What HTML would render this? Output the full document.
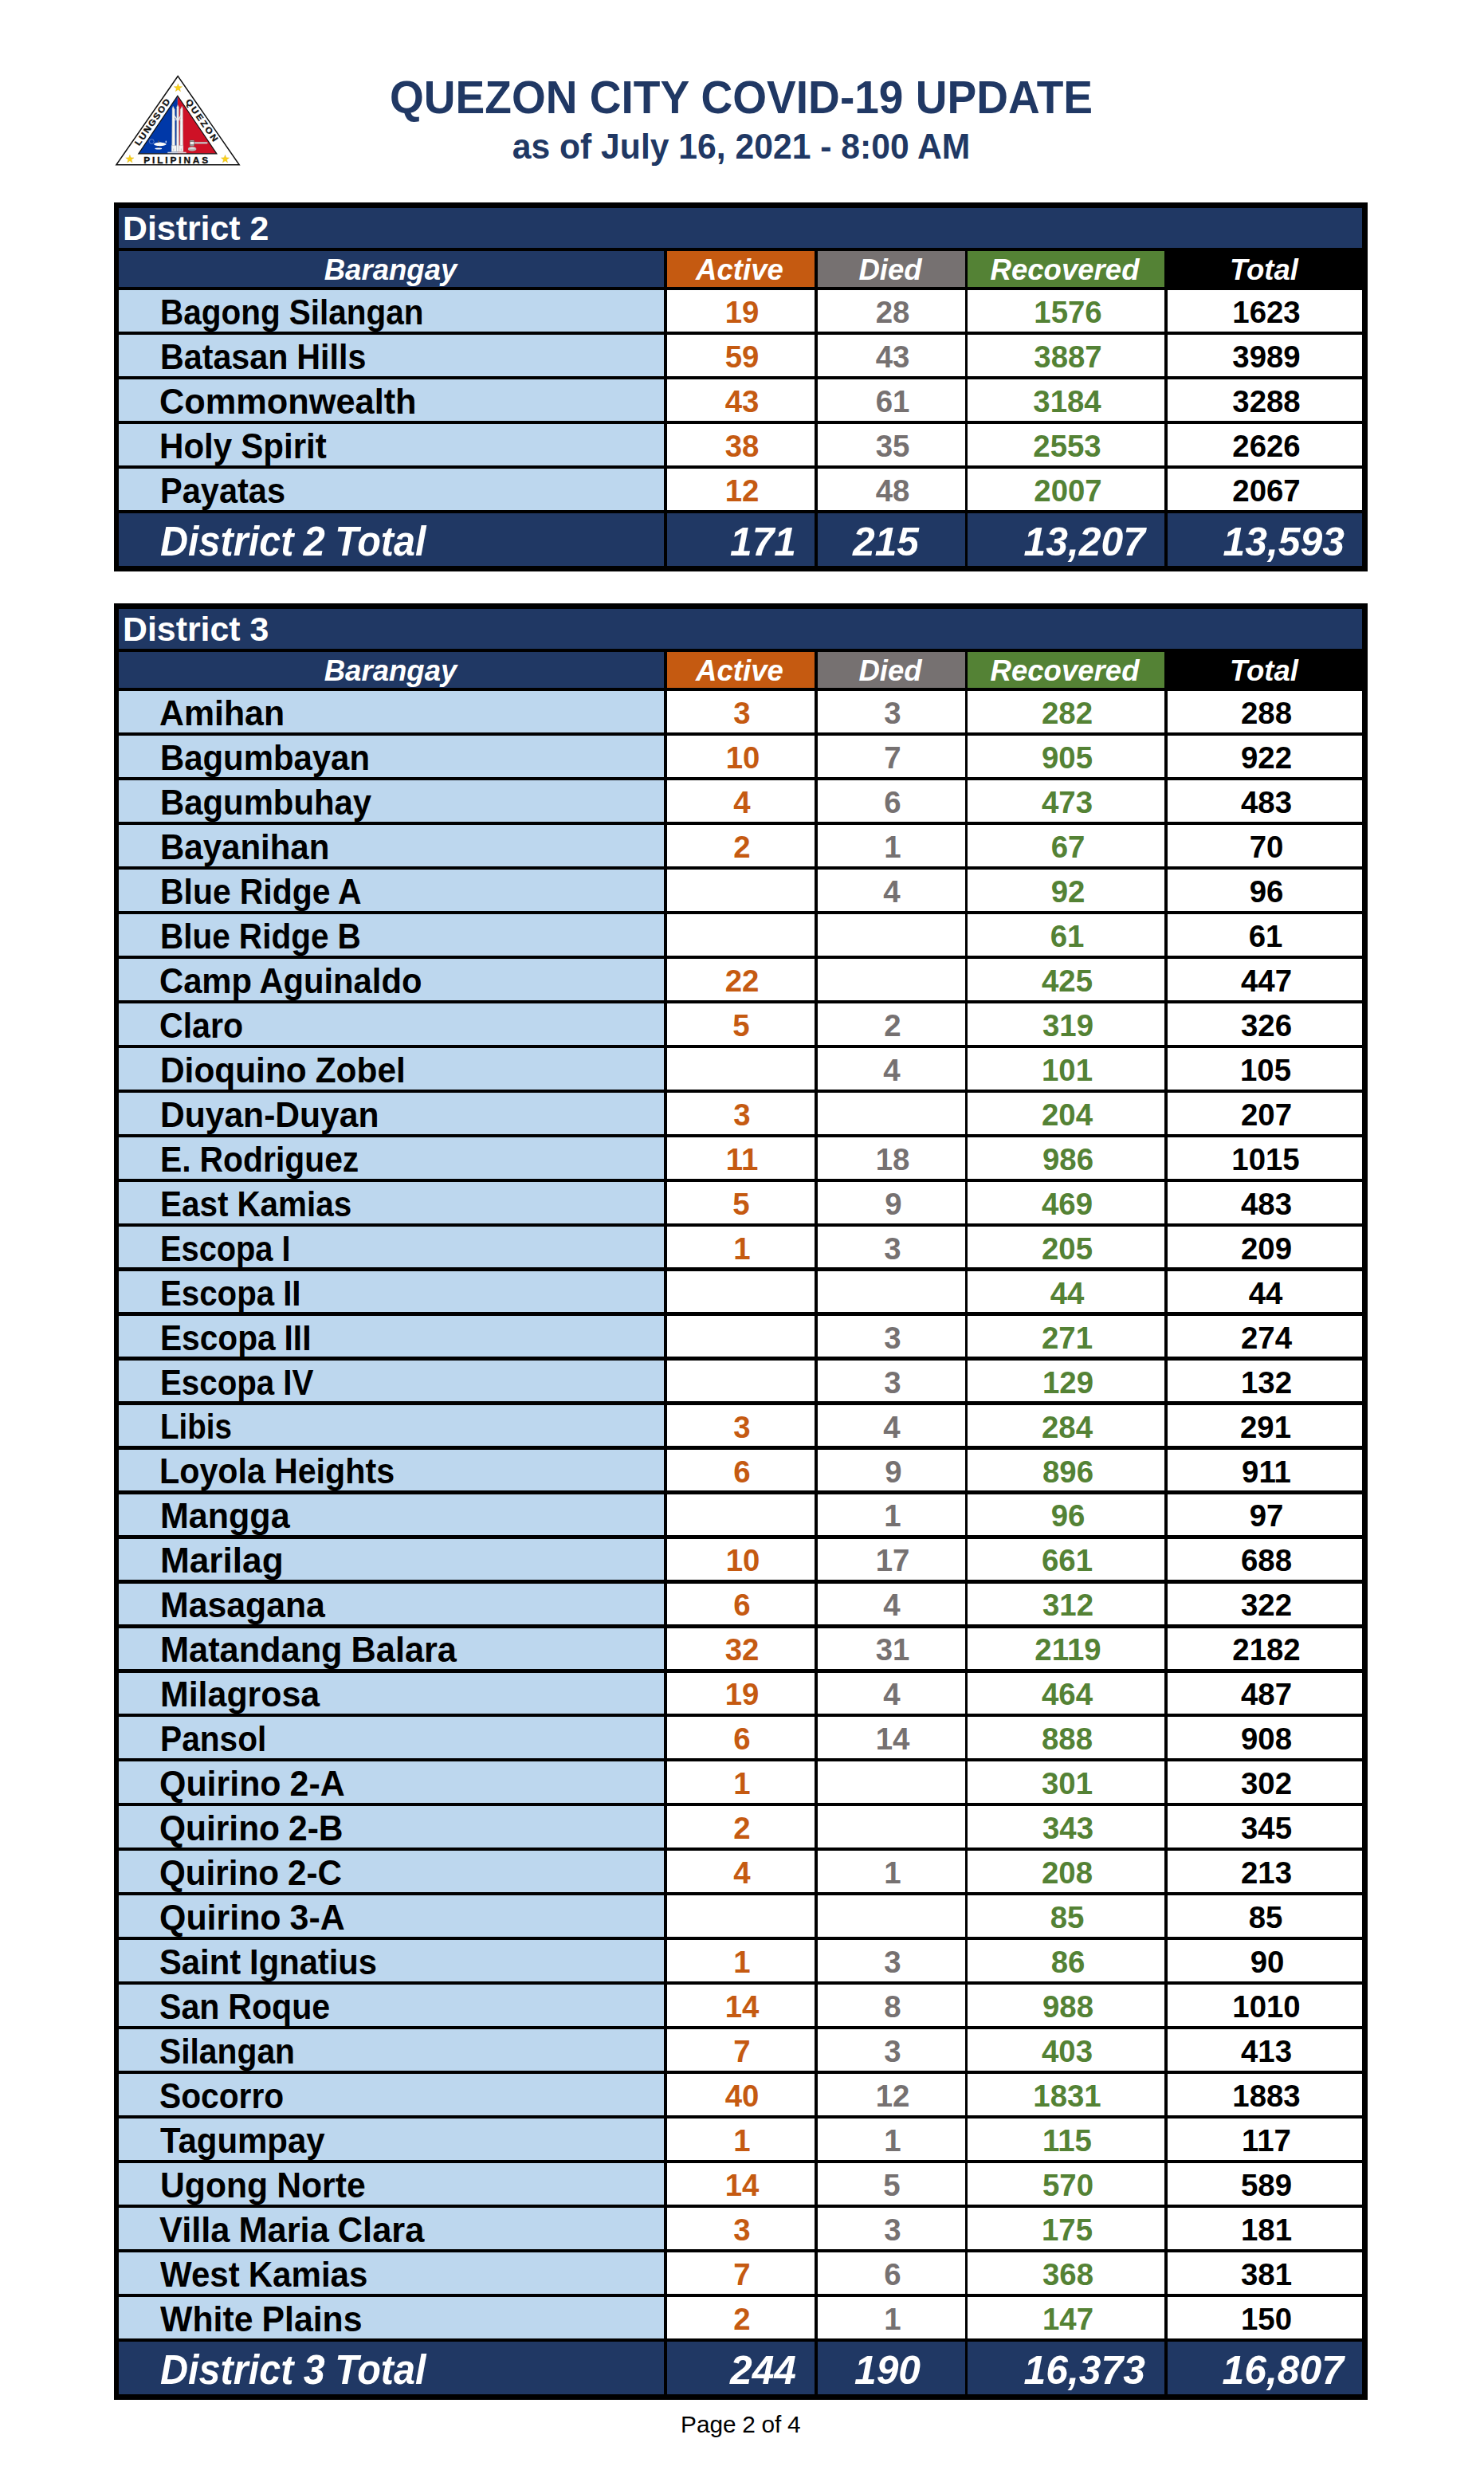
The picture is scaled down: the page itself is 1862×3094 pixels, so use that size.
<!DOCTYPE html>
<html lang="en"><head><meta charset="utf-8"><title>Quezon City COVID-19 Update</title>
<style>
html,body{margin:0;padding:0;background:#fff}
body{width:1862px;height:3094px;position:relative;overflow:hidden;font-family:"Liberation Sans",sans-serif}
.r{position:absolute}
.t{position:absolute;white-space:nowrap;margin:0;padding:0}
.ab{font-weight:700}
.abi{font-weight:700;font-style:italic}
.cb{font-weight:700}
.cbi{font-weight:700;font-style:italic}
.cr{font-weight:400}
</style></head>
<body>
<svg style="position:absolute;left:130px;top:80px" width="200" height="150" viewBox="130 80 200 150" font-family="'Liberation Sans',sans-serif" font-weight="700">
<polygon points="223.2,95.5 145.9,206.85 300.2,206.85" fill="#fff" stroke="#111" stroke-width="1.5" stroke-linejoin="miter"/>
<polygon points="222.9,120.2 173.8,192.8 222.9,192.8" fill="#0038A8"/>
<polygon points="222.9,120.2 271.9,192.8 222.9,192.8" fill="#CE1126"/>
<polygon points="222.9,120.2 173.8,192.8 271.9,192.8" fill="none" stroke="#111" stroke-width="1.2"/>
<g fill="#FCD116" stroke="#C9A30E" stroke-width="0.3">
<polygon points="0,-5.4 1.27,-1.75 5.14,-1.67 2.05,0.67 3.17,4.37 0,2.16 -3.17,4.37 -2.05,0.67 -5.14,-1.67 -1.27,-1.75" transform="translate(223.4,110.3)"/>
<polygon points="0,-5.4 1.27,-1.75 5.14,-1.67 2.05,0.67 3.17,4.37 0,2.16 -3.17,4.37 -2.05,0.67 -5.14,-1.67 -1.27,-1.75" transform="translate(162.9,199.6)"/>
<polygon points="0,-5.4 1.27,-1.75 5.14,-1.67 2.05,0.67 3.17,4.37 0,2.16 -3.17,4.37 -2.05,0.67 -5.14,-1.67 -1.27,-1.75" transform="translate(282.5,199.6)"/>
</g>
<g fill="#111" stroke="#111" stroke-width="0.35" font-size="10.8">
<text transform="translate(174.6,183.6) rotate(-55) scale(1.1,1)" letter-spacing="1.42">LUNGSOD</text>
<text transform="translate(232.4,127.6) rotate(55) scale(1.1,1)" letter-spacing="2.05">QUEZON</text>
<text transform="translate(180.2,204.7) scale(1.1,1)" letter-spacing="2.61">PILIPINAS</text>
</g>
<!-- monument -->
<g stroke-linejoin="round">
<rect x="210.3" y="190.7" width="23.4" height="1.5" fill="#e4e4e8" opacity="0.9"/>
<polygon points="216.1,136 217.2,133.3 219.3,137.5 219.7,183 215.7,183" fill="#ececec" stroke="#a9a9a9" stroke-width="0.5"/>
<polygon points="226.2,137.5 228.3,133.3 229.3,136 229.7,183 225.8,183" fill="#ececec" stroke="#a9a9a9" stroke-width="0.5"/>
<polygon points="221.8,134.2 223.05,131.6 224.3,134.2 224.6,190.4 221.5,190.4" fill="#f6f6f6" stroke="#a0a0a0" stroke-width="0.5"/>
<path d="M217.6,143.5 L221.8,149.6 M228,143.5 L224.3,149.6" stroke="#e2e2e2" stroke-width="1.5" fill="none"/>
<path d="M216.6,150.4 H229.2" stroke="#f2f2f2" stroke-width="0.9" fill="none"/>
<path d="M217.7,138 V182 M227.7,138 V182" stroke="#fff" stroke-width="0.8" fill="none"/>
<rect x="215.2" y="182.6" width="6.4" height="7.9" fill="#f4f4f4" stroke="#b4b4b4" stroke-width="0.4"/>
<rect x="224.5" y="182.6" width="5.4" height="7.9" fill="#f4f4f4" stroke="#b4b4b4" stroke-width="0.4"/>
<path d="M217.8,186.5 V189 M227.3,186.5 V189" stroke="#999" stroke-width="0.6"/>
</g>
<!-- lamp -->
<g>
<circle cx="190.3" cy="177.6" r="2.9" fill="none" stroke="#c9d3ee" stroke-width="0.45"/>
<ellipse cx="200.7" cy="181" rx="7.7" ry="2.2" fill="#fff"/>
<path d="M193.4,180.6 Q199.5,176.6 208,180.2 L208.6,181.4 Z" fill="#f4f4f4"/>
<path d="M197.8,178.6 L198.5,176.2 L199.5,176.2 L200.2,178.6 Z" fill="#555"/>
<path d="M198.6,183 L197.8,185.8 L199.2,185.8 L199.6,183 Z" fill="#333"/>
<ellipse cx="198.8" cy="186.6" rx="4.4" ry="1" fill="#fff"/>
<ellipse cx="208.3" cy="178" rx="0.8" ry="1.4" fill="#cfd6ea"/>
</g>
<!-- gavel -->
<g>
<rect x="243.5" y="178.3" width="17" height="1.9" rx="0.9" fill="#d8d8d8" stroke="#8a8a8a" stroke-width="0.35"/>
<rect x="238.2" y="175.9" width="5.5" height="7.3" rx="0.8" fill="#efefef" stroke="#4a4a4a" stroke-width="0.5"/>
<rect x="238.2" y="176.7" width="5.5" height="0.9" fill="#3c3c3c"/>
<rect x="238.2" y="181.5" width="5.5" height="0.9" fill="#3c3c3c"/>
<ellipse cx="241.1" cy="187" rx="5.3" ry="2.4" fill="#b9b9b9"/>
<ellipse cx="241.1" cy="185.7" rx="3.9" ry="1.2" fill="#dcdcdc"/>
</g>
</svg>

<div class="t ab" style="top:90px;height:64px;line-height:64px;font-size:57.3px;color:#203864;left:30.2px;width:1800px;text-align:center;transform-origin:50% 50%;transform:scaleX(0.9610);">QUEZON CITY COVID-19 UPDATE</div>
<div class="t ab" style="top:159px;height:49px;line-height:49px;font-size:43.8px;color:#203864;left:29.7px;width:1800px;text-align:center;transform-origin:50% 50%;transform:scaleX(0.9740);">as of July 16, 2021 - 8:00 AM</div>
<div class="r" style="left:143px;top:254.2px;width:1573px;height:462.6px;background:#000"></div>
<div class="r" style="left:149.1px;top:261.2px;width:1560.1px;height:49.6px;background:#203864"></div>
<div class="t ab" style="top:262px;height:48px;line-height:48px;font-size:43.2px;color:#fff;left:154.2px;transform-origin:0 50%;transform:scaleX(0.9920);">District 2</div>
<div class="r" style="left:149.1px;top:315.2px;width:683.9px;height:44.6px;background:#203864"></div>
<div class="t abi" style="top:317px;height:42px;line-height:42px;font-size:37.6px;color:#fff;left:-410.45px;width:1800px;text-align:center;transform-origin:50% 50%;transform:scaleX(0.9730);">Barangay</div>
<div class="r" style="left:837px;top:315.2px;width:184.7px;height:44.6px;background:#C55A11"></div>
<div class="t abi" style="top:317px;height:42px;line-height:42px;font-size:37.6px;color:#fff;left:27.85px;width:1800px;text-align:center;transform-origin:50% 50%;transform:scaleX(0.9730);">Active</div>
<div class="r" style="left:1025.8px;top:315.2px;width:184.8px;height:44.6px;background:#767171"></div>
<div class="t abi" style="top:317px;height:42px;line-height:42px;font-size:37.6px;color:#fff;left:216.7px;width:1800px;text-align:center;transform-origin:50% 50%;transform:scaleX(0.9730);">Died</div>
<div class="r" style="left:1214.4px;top:315.2px;width:246.6px;height:44.6px;background:#548235"></div>
<div class="t abi" style="top:317px;height:42px;line-height:42px;font-size:37.6px;color:#fff;left:436.2px;width:1800px;text-align:center;transform-origin:50% 50%;transform:scaleX(0.9730);">Recovered</div>
<div class="r" style="left:1465px;top:315.2px;width:244.2px;height:44.6px;background:#000"></div>
<div class="t abi" style="top:317px;height:42px;line-height:42px;font-size:37.6px;color:#fff;left:685.6px;width:1800px;text-align:center;transform-origin:50% 50%;transform:scaleX(0.9730);">Total</div>
<div class="r" style="left:149.1px;top:364.2px;width:683.9px;height:51.56px;background:#BDD7EE"></div>
<div class="t cb" style="top:367px;height:49px;line-height:49px;font-size:44.4px;color:#000;word-spacing:-0.29px;left:200.71px;transform-origin:0 50%;transform:scaleX(0.9123);">Bagong Silangan</div>
<div class="r" style="left:837px;top:364.2px;width:184.7px;height:51.56px;background:#fff"></div>
<div class="t cb" style="top:369px;height:44px;line-height:44px;font-size:39.5px;color:#C55A11;left:31.41px;width:1800px;text-align:center;transform-origin:50% 50%;transform:scaleX(0.9713);">19</div>
<div class="r" style="left:1025.8px;top:364.2px;width:184.8px;height:51.56px;background:#fff"></div>
<div class="t cb" style="top:369px;height:44px;line-height:44px;font-size:39.5px;color:#767171;left:219.81px;width:1800px;text-align:center;transform-origin:50% 50%;transform:scaleX(0.9713);">28</div>
<div class="r" style="left:1214.4px;top:364.2px;width:246.6px;height:51.56px;background:#fff"></div>
<div class="t cb" style="top:369px;height:44px;line-height:44px;font-size:39.5px;color:#548235;left:439.73px;width:1800px;text-align:center;transform-origin:50% 50%;transform:scaleX(0.9713);">1576</div>
<div class="r" style="left:1465px;top:364.2px;width:244.2px;height:51.56px;background:#fff"></div>
<div class="t cb" style="top:369px;height:44px;line-height:44px;font-size:39.5px;color:#000;left:689.01px;width:1800px;text-align:center;transform-origin:50% 50%;transform:scaleX(0.9713);">1623</div>
<div class="r" style="left:149.1px;top:420.16px;width:683.9px;height:51.56px;background:#BDD7EE"></div>
<div class="t cb" style="top:423px;height:49px;line-height:49px;font-size:44.4px;color:#000;word-spacing:-0.5px;left:200.67px;transform-origin:0 50%;transform:scaleX(0.9283);">Batasan Hills</div>
<div class="r" style="left:837px;top:420.16px;width:184.7px;height:51.56px;background:#fff"></div>
<div class="t cb" style="top:425px;height:44px;line-height:44px;font-size:39.5px;color:#C55A11;left:31.23px;width:1800px;text-align:center;transform-origin:50% 50%;transform:scaleX(0.9713);">59</div>
<div class="r" style="left:1025.8px;top:420.16px;width:184.8px;height:51.56px;background:#fff"></div>
<div class="t cb" style="top:425px;height:44px;line-height:44px;font-size:39.5px;color:#767171;left:219.77px;width:1800px;text-align:center;transform-origin:50% 50%;transform:scaleX(0.9713);">43</div>
<div class="r" style="left:1214.4px;top:420.16px;width:246.6px;height:51.56px;background:#fff"></div>
<div class="t cb" style="top:425px;height:44px;line-height:44px;font-size:39.5px;color:#548235;left:439.93px;width:1800px;text-align:center;transform-origin:50% 50%;transform:scaleX(0.9713);">3887</div>
<div class="r" style="left:1465px;top:420.16px;width:244.2px;height:51.56px;background:#fff"></div>
<div class="t cb" style="top:425px;height:44px;line-height:44px;font-size:39.5px;color:#000;left:689.3px;width:1800px;text-align:center;transform-origin:50% 50%;transform:scaleX(0.9713);">3989</div>
<div class="r" style="left:149.1px;top:476.12px;width:683.9px;height:51.56px;background:#BDD7EE"></div>
<div class="t cb" style="top:479px;height:49px;line-height:49px;font-size:44.4px;color:#000;left:199.82px;transform-origin:0 50%;transform:scaleX(0.9761);">Commonwealth</div>
<div class="r" style="left:837px;top:476.12px;width:184.7px;height:51.56px;background:#fff"></div>
<div class="t cb" style="top:481px;height:44px;line-height:44px;font-size:39.5px;color:#C55A11;left:30.92px;width:1800px;text-align:center;transform-origin:50% 50%;transform:scaleX(0.9713);">43</div>
<div class="r" style="left:1025.8px;top:476.12px;width:184.8px;height:51.56px;background:#fff"></div>
<div class="t cb" style="top:481px;height:44px;line-height:44px;font-size:39.5px;color:#767171;left:219.53px;width:1800px;text-align:center;transform-origin:50% 50%;transform:scaleX(0.9713);">61</div>
<div class="r" style="left:1214.4px;top:476.12px;width:246.6px;height:51.56px;background:#fff"></div>
<div class="t cb" style="top:481px;height:44px;line-height:44px;font-size:39.5px;color:#548235;left:439.43px;width:1800px;text-align:center;transform-origin:50% 50%;transform:scaleX(0.9713);">3184</div>
<div class="r" style="left:1465px;top:476.12px;width:244.2px;height:51.56px;background:#fff"></div>
<div class="t cb" style="top:481px;height:44px;line-height:44px;font-size:39.5px;color:#000;left:689px;width:1800px;text-align:center;transform-origin:50% 50%;transform:scaleX(0.9713);">3288</div>
<div class="r" style="left:149.1px;top:532.08px;width:683.9px;height:51.56px;background:#BDD7EE"></div>
<div class="t cb" style="top:535px;height:49px;line-height:49px;font-size:44.4px;color:#000;word-spacing:-0.75px;left:200.47px;transform-origin:0 50%;transform:scaleX(0.9480);">Holy Spirit</div>
<div class="r" style="left:837px;top:532.08px;width:184.7px;height:51.56px;background:#fff"></div>
<div class="t cb" style="top:537px;height:44px;line-height:44px;font-size:39.5px;color:#C55A11;left:31.25px;width:1800px;text-align:center;transform-origin:50% 50%;transform:scaleX(0.9713);">38</div>
<div class="r" style="left:1025.8px;top:532.08px;width:184.8px;height:51.56px;background:#fff"></div>
<div class="t cb" style="top:537px;height:44px;line-height:44px;font-size:39.5px;color:#767171;left:219.61px;width:1800px;text-align:center;transform-origin:50% 50%;transform:scaleX(0.9713);">35</div>
<div class="r" style="left:1214.4px;top:532.08px;width:246.6px;height:51.56px;background:#fff"></div>
<div class="t cb" style="top:537px;height:44px;line-height:44px;font-size:39.5px;color:#548235;left:439.45px;width:1800px;text-align:center;transform-origin:50% 50%;transform:scaleX(0.9713);">2553</div>
<div class="r" style="left:1465px;top:532.08px;width:244.2px;height:51.56px;background:#fff"></div>
<div class="t cb" style="top:537px;height:44px;line-height:44px;font-size:39.5px;color:#000;left:688.97px;width:1800px;text-align:center;transform-origin:50% 50%;transform:scaleX(0.9713);">2626</div>
<div class="r" style="left:149.1px;top:588.04px;width:683.9px;height:51.56px;background:#BDD7EE"></div>
<div class="t cb" style="top:591px;height:49px;line-height:49px;font-size:44.4px;color:#000;left:200.55px;transform-origin:0 50%;transform:scaleX(0.9358);">Payatas</div>
<div class="r" style="left:837px;top:588.04px;width:184.7px;height:51.56px;background:#fff"></div>
<div class="t cb" style="top:593px;height:44px;line-height:44px;font-size:39.5px;color:#C55A11;left:31.19px;width:1800px;text-align:center;transform-origin:50% 50%;transform:scaleX(0.9713);">12</div>
<div class="r" style="left:1025.8px;top:588.04px;width:184.8px;height:51.56px;background:#fff"></div>
<div class="t cb" style="top:593px;height:44px;line-height:44px;font-size:39.5px;color:#767171;left:219.63px;width:1800px;text-align:center;transform-origin:50% 50%;transform:scaleX(0.9713);">48</div>
<div class="r" style="left:1214.4px;top:588.04px;width:246.6px;height:51.56px;background:#fff"></div>
<div class="t cb" style="top:593px;height:44px;line-height:44px;font-size:39.5px;color:#548235;left:439.63px;width:1800px;text-align:center;transform-origin:50% 50%;transform:scaleX(0.9713);">2007</div>
<div class="r" style="left:1465px;top:588.04px;width:244.2px;height:51.56px;background:#fff"></div>
<div class="t cb" style="top:593px;height:44px;line-height:44px;font-size:39.5px;color:#000;left:689.03px;width:1800px;text-align:center;transform-origin:50% 50%;transform:scaleX(0.9713);">2067</div>
<div class="r" style="left:149.1px;top:644px;width:683.9px;height:66.1px;background:#203864"></div>
<div class="r" style="left:837px;top:644px;width:184.7px;height:66.1px;background:#203864"></div>
<div class="r" style="left:1025.8px;top:644px;width:184.8px;height:66.1px;background:#203864"></div>
<div class="r" style="left:1214.4px;top:644px;width:246.6px;height:66.1px;background:#203864"></div>
<div class="r" style="left:1465px;top:644px;width:244.2px;height:66.1px;background:#203864"></div>
<div class="t cbi" style="top:651px;height:57px;line-height:57px;font-size:51px;color:#fff;word-spacing:-1.06px;left:201.22px;transform-origin:0 50%;transform:scaleX(0.9523);">District 2 Total</div>
<div class="t cbi" style="top:652px;height:56px;line-height:56px;font-size:49.8px;color:#fff;left:398.6px;width:600px;text-align:right;transform-origin:100% 50%;transform:scaleX(0.9992);">171</div>
<div class="t cbi" style="top:652px;height:56px;line-height:56px;font-size:49.8px;color:#fff;left:553.14px;width:600px;text-align:right;transform-origin:100% 50%;transform:scaleX(0.9992);">215</div>
<div class="t cbi" style="top:652px;height:56px;line-height:56px;font-size:49.8px;color:#fff;left:836.53px;width:600px;text-align:right;transform-origin:100% 50%;transform:scaleX(1.0008);">13,207</div>
<div class="t cbi" style="top:652px;height:56px;line-height:56px;font-size:49.8px;color:#fff;left:1086.68px;width:600px;text-align:right;transform-origin:100% 50%;transform:scaleX(1.0008);">13,593</div>
<div class="r" style="left:143px;top:757.4px;width:1573px;height:2253.32px;background:#000"></div>
<div class="r" style="left:149.1px;top:764.4px;width:1560.1px;height:49.6px;background:#203864"></div>
<div class="t ab" style="top:765px;height:48px;line-height:48px;font-size:43.2px;color:#fff;left:154.2px;transform-origin:0 50%;transform:scaleX(0.9920);">District 3</div>
<div class="r" style="left:149.1px;top:818.4px;width:683.9px;height:44.6px;background:#203864"></div>
<div class="t abi" style="top:820px;height:42px;line-height:42px;font-size:37.6px;color:#fff;left:-410.45px;width:1800px;text-align:center;transform-origin:50% 50%;transform:scaleX(0.9730);">Barangay</div>
<div class="r" style="left:837px;top:818.4px;width:184.7px;height:44.6px;background:#C55A11"></div>
<div class="t abi" style="top:820px;height:42px;line-height:42px;font-size:37.6px;color:#fff;left:27.85px;width:1800px;text-align:center;transform-origin:50% 50%;transform:scaleX(0.9730);">Active</div>
<div class="r" style="left:1025.8px;top:818.4px;width:184.8px;height:44.6px;background:#767171"></div>
<div class="t abi" style="top:820px;height:42px;line-height:42px;font-size:37.6px;color:#fff;left:216.7px;width:1800px;text-align:center;transform-origin:50% 50%;transform:scaleX(0.9730);">Died</div>
<div class="r" style="left:1214.4px;top:818.4px;width:246.6px;height:44.6px;background:#548235"></div>
<div class="t abi" style="top:820px;height:42px;line-height:42px;font-size:37.6px;color:#fff;left:436.2px;width:1800px;text-align:center;transform-origin:50% 50%;transform:scaleX(0.9730);">Recovered</div>
<div class="r" style="left:1465px;top:818.4px;width:244.2px;height:44.6px;background:#000"></div>
<div class="t abi" style="top:820px;height:42px;line-height:42px;font-size:37.6px;color:#fff;left:685.6px;width:1800px;text-align:center;transform-origin:50% 50%;transform:scaleX(0.9730);">Total</div>
<div class="r" style="left:149.1px;top:867.4px;width:683.9px;height:51.56px;background:#BDD7EE"></div>
<div class="t cb" style="top:870px;height:49px;line-height:49px;font-size:44.4px;color:#000;left:199.63px;transform-origin:0 50%;transform:scaleX(0.9647);">Amihan</div>
<div class="r" style="left:837px;top:867.4px;width:184.7px;height:51.56px;background:#fff"></div>
<div class="t cb" style="top:872px;height:44px;line-height:44px;font-size:39.5px;color:#C55A11;left:31.4px;width:1800px;text-align:center;transform-origin:50% 50%;transform:scaleX(0.9713);">3</div>
<div class="r" style="left:1025.8px;top:867.4px;width:184.8px;height:51.56px;background:#fff"></div>
<div class="t cb" style="top:872px;height:44px;line-height:44px;font-size:39.5px;color:#767171;left:220.25px;width:1800px;text-align:center;transform-origin:50% 50%;transform:scaleX(0.9713);">3</div>
<div class="r" style="left:1214.4px;top:867.4px;width:246.6px;height:51.56px;background:#fff"></div>
<div class="t cb" style="top:872px;height:44px;line-height:44px;font-size:39.5px;color:#548235;left:439.38px;width:1800px;text-align:center;transform-origin:50% 50%;transform:scaleX(0.9713);">282</div>
<div class="r" style="left:1465px;top:867.4px;width:244.2px;height:51.56px;background:#fff"></div>
<div class="t cb" style="top:872px;height:44px;line-height:44px;font-size:39.5px;color:#000;left:688.71px;width:1800px;text-align:center;transform-origin:50% 50%;transform:scaleX(0.9713);">288</div>
<div class="r" style="left:149.1px;top:923.36px;width:683.9px;height:51.56px;background:#BDD7EE"></div>
<div class="t cb" style="top:926px;height:49px;line-height:49px;font-size:44.4px;color:#000;left:200.62px;transform-origin:0 50%;transform:scaleX(0.9435);">Bagumbayan</div>
<div class="r" style="left:837px;top:923.36px;width:184.7px;height:51.56px;background:#fff"></div>
<div class="t cb" style="top:928px;height:44px;line-height:44px;font-size:39.5px;color:#C55A11;left:31.5px;width:1800px;text-align:center;transform-origin:50% 50%;transform:scaleX(0.9713);">10</div>
<div class="r" style="left:1025.8px;top:923.36px;width:184.8px;height:51.56px;background:#fff"></div>
<div class="t cb" style="top:928px;height:44px;line-height:44px;font-size:39.5px;color:#767171;left:220.11px;width:1800px;text-align:center;transform-origin:50% 50%;transform:scaleX(0.9713);">7</div>
<div class="r" style="left:1214.4px;top:923.36px;width:246.6px;height:51.56px;background:#fff"></div>
<div class="t cb" style="top:928px;height:44px;line-height:44px;font-size:39.5px;color:#548235;left:439.24px;width:1800px;text-align:center;transform-origin:50% 50%;transform:scaleX(0.9713);">905</div>
<div class="r" style="left:1465px;top:923.36px;width:244.2px;height:51.56px;background:#fff"></div>
<div class="t cb" style="top:928px;height:44px;line-height:44px;font-size:39.5px;color:#000;left:689.21px;width:1800px;text-align:center;transform-origin:50% 50%;transform:scaleX(0.9713);">922</div>
<div class="r" style="left:149.1px;top:979.32px;width:683.9px;height:51.56px;background:#BDD7EE"></div>
<div class="t cb" style="top:982px;height:49px;line-height:49px;font-size:44.4px;color:#000;left:200.62px;transform-origin:0 50%;transform:scaleX(0.9428);">Bagumbuhay</div>
<div class="r" style="left:837px;top:979.32px;width:184.7px;height:51.56px;background:#fff"></div>
<div class="t cb" style="top:984px;height:44px;line-height:44px;font-size:39.5px;color:#C55A11;left:30.6px;width:1800px;text-align:center;transform-origin:50% 50%;transform:scaleX(0.9713);">4</div>
<div class="r" style="left:1025.8px;top:979.32px;width:184.8px;height:51.56px;background:#fff"></div>
<div class="t cb" style="top:984px;height:44px;line-height:44px;font-size:39.5px;color:#767171;left:220.02px;width:1800px;text-align:center;transform-origin:50% 50%;transform:scaleX(0.9713);">6</div>
<div class="r" style="left:1214.4px;top:979.32px;width:246.6px;height:51.56px;background:#fff"></div>
<div class="t cb" style="top:984px;height:44px;line-height:44px;font-size:39.5px;color:#548235;left:439.27px;width:1800px;text-align:center;transform-origin:50% 50%;transform:scaleX(0.9713);">473</div>
<div class="r" style="left:1465px;top:979.32px;width:244.2px;height:51.56px;background:#fff"></div>
<div class="t cb" style="top:984px;height:44px;line-height:44px;font-size:39.5px;color:#000;left:688.67px;width:1800px;text-align:center;transform-origin:50% 50%;transform:scaleX(0.9713);">483</div>
<div class="r" style="left:149.1px;top:1035.28px;width:683.9px;height:51.56px;background:#BDD7EE"></div>
<div class="t cb" style="top:1038px;height:49px;line-height:49px;font-size:44.4px;color:#000;left:200.61px;transform-origin:0 50%;transform:scaleX(0.9460);">Bayanihan</div>
<div class="r" style="left:837px;top:1035.28px;width:184.7px;height:51.56px;background:#fff"></div>
<div class="t cb" style="top:1040px;height:44px;line-height:44px;font-size:39.5px;color:#C55A11;left:31.03px;width:1800px;text-align:center;transform-origin:50% 50%;transform:scaleX(0.9713);">2</div>
<div class="r" style="left:1025.8px;top:1035.28px;width:184.8px;height:51.56px;background:#fff"></div>
<div class="t cb" style="top:1040px;height:44px;line-height:44px;font-size:39.5px;color:#767171;left:219.74px;width:1800px;text-align:center;transform-origin:50% 50%;transform:scaleX(0.9713);">1</div>
<div class="r" style="left:1214.4px;top:1035.28px;width:246.6px;height:51.56px;background:#fff"></div>
<div class="t cb" style="top:1040px;height:44px;line-height:44px;font-size:39.5px;color:#548235;left:439.57px;width:1800px;text-align:center;transform-origin:50% 50%;transform:scaleX(0.9713);">67</div>
<div class="r" style="left:1465px;top:1035.28px;width:244.2px;height:51.56px;background:#fff"></div>
<div class="t cb" style="top:1040px;height:44px;line-height:44px;font-size:39.5px;color:#000;left:689.07px;width:1800px;text-align:center;transform-origin:50% 50%;transform:scaleX(0.9713);">70</div>
<div class="r" style="left:149.1px;top:1091.24px;width:683.9px;height:51.56px;background:#BDD7EE"></div>
<div class="t cb" style="top:1094px;height:49px;line-height:49px;font-size:44.4px;color:#000;word-spacing:-0.42px;left:200.68px;transform-origin:0 50%;transform:scaleX(0.9223);">Blue Ridge A</div>
<div class="r" style="left:837px;top:1091.24px;width:184.7px;height:51.56px;background:#fff"></div>
<div class="r" style="left:1025.8px;top:1091.24px;width:184.8px;height:51.56px;background:#fff"></div>
<div class="t cb" style="top:1096px;height:44px;line-height:44px;font-size:39.5px;color:#767171;left:219.45px;width:1800px;text-align:center;transform-origin:50% 50%;transform:scaleX(0.9713);">4</div>
<div class="r" style="left:1214.4px;top:1091.24px;width:246.6px;height:51.56px;background:#fff"></div>
<div class="t cb" style="top:1096px;height:44px;line-height:44px;font-size:39.5px;color:#548235;left:439.81px;width:1800px;text-align:center;transform-origin:50% 50%;transform:scaleX(0.9713);">92</div>
<div class="r" style="left:1465px;top:1091.24px;width:244.2px;height:51.56px;background:#fff"></div>
<div class="t cb" style="top:1096px;height:44px;line-height:44px;font-size:39.5px;color:#000;left:689.41px;width:1800px;text-align:center;transform-origin:50% 50%;transform:scaleX(0.9713);">96</div>
<div class="r" style="left:149.1px;top:1147.2px;width:683.9px;height:51.56px;background:#BDD7EE"></div>
<div class="t cb" style="top:1150px;height:49px;line-height:49px;font-size:44.4px;color:#000;word-spacing:-0.31px;left:200.71px;transform-origin:0 50%;transform:scaleX(0.9135);">Blue Ridge B</div>
<div class="r" style="left:837px;top:1147.2px;width:184.7px;height:51.56px;background:#fff"></div>
<div class="r" style="left:1025.8px;top:1147.2px;width:184.8px;height:51.56px;background:#fff"></div>
<div class="r" style="left:1214.4px;top:1147.2px;width:246.6px;height:51.56px;background:#fff"></div>
<div class="t cb" style="top:1152px;height:44px;line-height:44px;font-size:39.5px;color:#548235;left:439.03px;width:1800px;text-align:center;transform-origin:50% 50%;transform:scaleX(0.9713);">61</div>
<div class="r" style="left:1465px;top:1147.2px;width:244.2px;height:51.56px;background:#fff"></div>
<div class="t cb" style="top:1152px;height:44px;line-height:44px;font-size:39.5px;color:#000;left:688.43px;width:1800px;text-align:center;transform-origin:50% 50%;transform:scaleX(0.9713);">61</div>
<div class="r" style="left:149.1px;top:1203.16px;width:683.9px;height:51.56px;background:#BDD7EE"></div>
<div class="t cb" style="top:1206px;height:49px;line-height:49px;font-size:44.4px;color:#000;word-spacing:-0.65px;left:199.88px;transform-origin:0 50%;transform:scaleX(0.9402);">Camp Aguinaldo</div>
<div class="r" style="left:837px;top:1203.16px;width:184.7px;height:51.56px;background:#fff"></div>
<div class="t cb" style="top:1208px;height:44px;line-height:44px;font-size:39.5px;color:#C55A11;left:31.03px;width:1800px;text-align:center;transform-origin:50% 50%;transform:scaleX(0.9713);">22</div>
<div class="r" style="left:1025.8px;top:1203.16px;width:184.8px;height:51.56px;background:#fff"></div>
<div class="r" style="left:1214.4px;top:1203.16px;width:246.6px;height:51.56px;background:#fff"></div>
<div class="t cb" style="top:1208px;height:44px;line-height:44px;font-size:39.5px;color:#548235;left:438.63px;width:1800px;text-align:center;transform-origin:50% 50%;transform:scaleX(0.9713);">425</div>
<div class="r" style="left:1465px;top:1203.16px;width:244.2px;height:51.56px;background:#fff"></div>
<div class="t cb" style="top:1208px;height:44px;line-height:44px;font-size:39.5px;color:#000;left:688.85px;width:1800px;text-align:center;transform-origin:50% 50%;transform:scaleX(0.9713);">447</div>
<div class="r" style="left:149.1px;top:1259.12px;width:683.9px;height:51.56px;background:#BDD7EE"></div>
<div class="t cb" style="top:1262px;height:49px;line-height:49px;font-size:44.4px;color:#000;left:199.91px;transform-origin:0 50%;transform:scaleX(0.9256);">Claro</div>
<div class="r" style="left:837px;top:1259.12px;width:184.7px;height:51.56px;background:#fff"></div>
<div class="t cb" style="top:1264px;height:44px;line-height:44px;font-size:39.5px;color:#C55A11;left:30.43px;width:1800px;text-align:center;transform-origin:50% 50%;transform:scaleX(0.9713);">5</div>
<div class="r" style="left:1025.8px;top:1259.12px;width:184.8px;height:51.56px;background:#fff"></div>
<div class="t cb" style="top:1264px;height:44px;line-height:44px;font-size:39.5px;color:#767171;left:219.88px;width:1800px;text-align:center;transform-origin:50% 50%;transform:scaleX(0.9713);">2</div>
<div class="r" style="left:1214.4px;top:1259.12px;width:246.6px;height:51.56px;background:#fff"></div>
<div class="t cb" style="top:1264px;height:44px;line-height:44px;font-size:39.5px;color:#548235;left:439.9px;width:1800px;text-align:center;transform-origin:50% 50%;transform:scaleX(0.9713);">319</div>
<div class="r" style="left:1465px;top:1259.12px;width:244.2px;height:51.56px;background:#fff"></div>
<div class="t cb" style="top:1264px;height:44px;line-height:44px;font-size:39.5px;color:#000;left:689.27px;width:1800px;text-align:center;transform-origin:50% 50%;transform:scaleX(0.9713);">326</div>
<div class="r" style="left:149.1px;top:1315.08px;width:683.9px;height:51.56px;background:#BDD7EE"></div>
<div class="t cb" style="top:1318px;height:49px;line-height:49px;font-size:44.4px;color:#000;word-spacing:-0.83px;left:200.52px;transform-origin:0 50%;transform:scaleX(0.9553);">Dioquino Zobel</div>
<div class="r" style="left:837px;top:1315.08px;width:184.7px;height:51.56px;background:#fff"></div>
<div class="r" style="left:1025.8px;top:1315.08px;width:184.8px;height:51.56px;background:#fff"></div>
<div class="t cb" style="top:1320px;height:44px;line-height:44px;font-size:39.5px;color:#767171;left:219.45px;width:1800px;text-align:center;transform-origin:50% 50%;transform:scaleX(0.9713);">4</div>
<div class="r" style="left:1214.4px;top:1315.08px;width:246.6px;height:51.56px;background:#fff"></div>
<div class="t cb" style="top:1320px;height:44px;line-height:44px;font-size:39.5px;color:#548235;left:439.24px;width:1800px;text-align:center;transform-origin:50% 50%;transform:scaleX(0.9713);">101</div>
<div class="r" style="left:1465px;top:1315.08px;width:244.2px;height:51.56px;background:#fff"></div>
<div class="t cb" style="top:1320px;height:44px;line-height:44px;font-size:39.5px;color:#000;left:688.36px;width:1800px;text-align:center;transform-origin:50% 50%;transform:scaleX(0.9713);">105</div>
<div class="r" style="left:149.1px;top:1371.04px;width:683.9px;height:51.56px;background:#BDD7EE"></div>
<div class="t cb" style="top:1374px;height:49px;line-height:49px;font-size:44.4px;color:#000;left:200.5px;transform-origin:0 50%;transform:scaleX(0.9592);">Duyan-Duyan</div>
<div class="r" style="left:837px;top:1371.04px;width:184.7px;height:51.56px;background:#fff"></div>
<div class="t cb" style="top:1376px;height:44px;line-height:44px;font-size:39.5px;color:#C55A11;left:31.4px;width:1800px;text-align:center;transform-origin:50% 50%;transform:scaleX(0.9713);">3</div>
<div class="r" style="left:1025.8px;top:1371.04px;width:184.8px;height:51.56px;background:#fff"></div>
<div class="r" style="left:1214.4px;top:1371.04px;width:246.6px;height:51.56px;background:#fff"></div>
<div class="t cb" style="top:1376px;height:44px;line-height:44px;font-size:39.5px;color:#548235;left:439.13px;width:1800px;text-align:center;transform-origin:50% 50%;transform:scaleX(0.9713);">204</div>
<div class="r" style="left:1465px;top:1371.04px;width:244.2px;height:51.56px;background:#fff"></div>
<div class="t cb" style="top:1376px;height:44px;line-height:44px;font-size:39.5px;color:#000;left:689.03px;width:1800px;text-align:center;transform-origin:50% 50%;transform:scaleX(0.9713);">207</div>
<div class="r" style="left:149.1px;top:1427px;width:683.9px;height:51.56px;background:#BDD7EE"></div>
<div class="t cb" style="top:1430px;height:49px;line-height:49px;font-size:44.4px;color:#000;word-spacing:-0.4px;left:200.67px;transform-origin:0 50%;transform:scaleX(0.9203);">E. Rodriguez</div>
<div class="r" style="left:837px;top:1427px;width:184.7px;height:51.56px;background:#fff"></div>
<div class="t cb" style="top:1432px;height:44px;line-height:44px;font-size:39.5px;color:#C55A11;left:30.89px;width:1800px;text-align:center;transform-origin:50% 50%;transform:scaleX(0.9713);">11</div>
<div class="r" style="left:1025.8px;top:1427px;width:184.8px;height:51.56px;background:#fff"></div>
<div class="t cb" style="top:1432px;height:44px;line-height:44px;font-size:39.5px;color:#767171;left:219.96px;width:1800px;text-align:center;transform-origin:50% 50%;transform:scaleX(0.9713);">18</div>
<div class="r" style="left:1214.4px;top:1427px;width:246.6px;height:51.56px;background:#fff"></div>
<div class="t cb" style="top:1432px;height:44px;line-height:44px;font-size:39.5px;color:#548235;left:440.01px;width:1800px;text-align:center;transform-origin:50% 50%;transform:scaleX(0.9713);">986</div>
<div class="r" style="left:1465px;top:1427px;width:244.2px;height:51.56px;background:#fff"></div>
<div class="t cb" style="top:1432px;height:44px;line-height:44px;font-size:39.5px;color:#000;left:688.36px;width:1800px;text-align:center;transform-origin:50% 50%;transform:scaleX(0.9713);">1015</div>
<div class="r" style="left:149.1px;top:1482.96px;width:683.9px;height:51.56px;background:#BDD7EE"></div>
<div class="t cb" style="top:1486px;height:49px;line-height:49px;font-size:44.4px;color:#000;word-spacing:-0.28px;left:200.69px;transform-origin:0 50%;transform:scaleX(0.9111);">East Kamias</div>
<div class="r" style="left:837px;top:1482.96px;width:184.7px;height:51.56px;background:#fff"></div>
<div class="t cb" style="top:1488px;height:44px;line-height:44px;font-size:39.5px;color:#C55A11;left:30.43px;width:1800px;text-align:center;transform-origin:50% 50%;transform:scaleX(0.9713);">5</div>
<div class="r" style="left:1025.8px;top:1482.96px;width:184.8px;height:51.56px;background:#fff"></div>
<div class="t cb" style="top:1488px;height:44px;line-height:44px;font-size:39.5px;color:#767171;left:220.54px;width:1800px;text-align:center;transform-origin:50% 50%;transform:scaleX(0.9713);">9</div>
<div class="r" style="left:1214.4px;top:1482.96px;width:246.6px;height:51.56px;background:#fff"></div>
<div class="t cb" style="top:1488px;height:44px;line-height:44px;font-size:39.5px;color:#548235;left:439.42px;width:1800px;text-align:center;transform-origin:50% 50%;transform:scaleX(0.9713);">469</div>
<div class="r" style="left:1465px;top:1482.96px;width:244.2px;height:51.56px;background:#fff"></div>
<div class="t cb" style="top:1488px;height:44px;line-height:44px;font-size:39.5px;color:#000;left:688.67px;width:1800px;text-align:center;transform-origin:50% 50%;transform:scaleX(0.9713);">483</div>
<div class="r" style="left:149.1px;top:1538.92px;width:683.9px;height:51.56px;background:#BDD7EE"></div>
<div class="t cb" style="top:1542px;height:49px;line-height:49px;font-size:44.4px;color:#000;word-spacing:-0.08px;left:200.74px;transform-origin:0 50%;transform:scaleX(0.8961);">Escopa I</div>
<div class="r" style="left:837px;top:1538.92px;width:184.7px;height:51.56px;background:#fff"></div>
<div class="t cb" style="top:1544px;height:44px;line-height:44px;font-size:39.5px;color:#C55A11;left:30.89px;width:1800px;text-align:center;transform-origin:50% 50%;transform:scaleX(0.9713);">1</div>
<div class="r" style="left:1025.8px;top:1538.92px;width:184.8px;height:51.56px;background:#fff"></div>
<div class="t cb" style="top:1544px;height:44px;line-height:44px;font-size:39.5px;color:#767171;left:220.25px;width:1800px;text-align:center;transform-origin:50% 50%;transform:scaleX(0.9713);">3</div>
<div class="r" style="left:1214.4px;top:1538.92px;width:246.6px;height:51.56px;background:#fff"></div>
<div class="t cb" style="top:1544px;height:44px;line-height:44px;font-size:39.5px;color:#548235;left:438.81px;width:1800px;text-align:center;transform-origin:50% 50%;transform:scaleX(0.9713);">205</div>
<div class="r" style="left:1465px;top:1538.92px;width:244.2px;height:51.56px;background:#fff"></div>
<div class="t cb" style="top:1544px;height:44px;line-height:44px;font-size:39.5px;color:#000;left:689px;width:1800px;text-align:center;transform-origin:50% 50%;transform:scaleX(0.9713);">209</div>
<div class="r" style="left:149.1px;top:1594.88px;width:683.9px;height:51.56px;background:#BDD7EE"></div>
<div class="t cb" style="top:1598px;height:49px;line-height:49px;font-size:44.4px;color:#000;word-spacing:-0.22px;left:200.71px;transform-origin:0 50%;transform:scaleX(0.9066);">Escopa II</div>
<div class="r" style="left:837px;top:1594.88px;width:184.7px;height:51.56px;background:#fff"></div>
<div class="r" style="left:1025.8px;top:1594.88px;width:184.8px;height:51.56px;background:#fff"></div>
<div class="r" style="left:1214.4px;top:1594.88px;width:246.6px;height:51.56px;background:#fff"></div>
<div class="t cb" style="top:1600px;height:44px;line-height:44px;font-size:39.5px;color:#548235;left:438.95px;width:1800px;text-align:center;transform-origin:50% 50%;transform:scaleX(0.9713);">44</div>
<div class="r" style="left:1465px;top:1594.88px;width:244.2px;height:51.56px;background:#fff"></div>
<div class="t cb" style="top:1600px;height:44px;line-height:44px;font-size:39.5px;color:#000;left:688.35px;width:1800px;text-align:center;transform-origin:50% 50%;transform:scaleX(0.9713);">44</div>
<div class="r" style="left:149.1px;top:1650.84px;width:683.9px;height:51.56px;background:#BDD7EE"></div>
<div class="t cb" style="top:1654px;height:49px;line-height:49px;font-size:44.4px;color:#000;word-spacing:-0.34px;left:200.68px;transform-origin:0 50%;transform:scaleX(0.9157);">Escopa III</div>
<div class="r" style="left:837px;top:1650.84px;width:184.7px;height:51.56px;background:#fff"></div>
<div class="r" style="left:1025.8px;top:1650.84px;width:184.8px;height:51.56px;background:#fff"></div>
<div class="t cb" style="top:1656px;height:44px;line-height:44px;font-size:39.5px;color:#767171;left:220.25px;width:1800px;text-align:center;transform-origin:50% 50%;transform:scaleX(0.9713);">3</div>
<div class="r" style="left:1214.4px;top:1650.84px;width:246.6px;height:51.56px;background:#fff"></div>
<div class="t cb" style="top:1656px;height:44px;line-height:44px;font-size:39.5px;color:#548235;left:439.09px;width:1800px;text-align:center;transform-origin:50% 50%;transform:scaleX(0.9713);">271</div>
<div class="r" style="left:1465px;top:1650.84px;width:244.2px;height:51.56px;background:#fff"></div>
<div class="t cb" style="top:1656px;height:44px;line-height:44px;font-size:39.5px;color:#000;left:688.53px;width:1800px;text-align:center;transform-origin:50% 50%;transform:scaleX(0.9713);">274</div>
<div class="r" style="left:149.1px;top:1706.8px;width:683.9px;height:51.56px;background:#BDD7EE"></div>
<div class="t cb" style="top:1710px;height:49px;line-height:49px;font-size:44.4px;color:#000;word-spacing:-0.22px;left:200.71px;transform-origin:0 50%;transform:scaleX(0.9071);">Escopa IV</div>
<div class="r" style="left:837px;top:1706.8px;width:184.7px;height:51.56px;background:#fff"></div>
<div class="r" style="left:1025.8px;top:1706.8px;width:184.8px;height:51.56px;background:#fff"></div>
<div class="t cb" style="top:1712px;height:44px;line-height:44px;font-size:39.5px;color:#767171;left:220.25px;width:1800px;text-align:center;transform-origin:50% 50%;transform:scaleX(0.9713);">3</div>
<div class="r" style="left:1214.4px;top:1706.8px;width:246.6px;height:51.56px;background:#fff"></div>
<div class="t cb" style="top:1712px;height:44px;line-height:44px;font-size:39.5px;color:#548235;left:439.76px;width:1800px;text-align:center;transform-origin:50% 50%;transform:scaleX(0.9713);">129</div>
<div class="r" style="left:1465px;top:1706.8px;width:244.2px;height:51.56px;background:#fff"></div>
<div class="t cb" style="top:1712px;height:44px;line-height:44px;font-size:39.5px;color:#000;left:688.94px;width:1800px;text-align:center;transform-origin:50% 50%;transform:scaleX(0.9713);">132</div>
<div class="r" style="left:149.1px;top:1762.76px;width:683.9px;height:51.56px;background:#BDD7EE"></div>
<div class="t cb" style="top:1765px;height:49px;line-height:49px;font-size:44.4px;color:#000;left:200.59px;transform-origin:0 50%;transform:scaleX(0.8676);">Libis</div>
<div class="r" style="left:837px;top:1762.76px;width:184.7px;height:51.56px;background:#fff"></div>
<div class="t cb" style="top:1768px;height:44px;line-height:44px;font-size:39.5px;color:#C55A11;left:31.4px;width:1800px;text-align:center;transform-origin:50% 50%;transform:scaleX(0.9713);">3</div>
<div class="r" style="left:1025.8px;top:1762.76px;width:184.8px;height:51.56px;background:#fff"></div>
<div class="t cb" style="top:1768px;height:44px;line-height:44px;font-size:39.5px;color:#767171;left:219.45px;width:1800px;text-align:center;transform-origin:50% 50%;transform:scaleX(0.9713);">4</div>
<div class="r" style="left:1214.4px;top:1762.76px;width:246.6px;height:51.56px;background:#fff"></div>
<div class="t cb" style="top:1768px;height:44px;line-height:44px;font-size:39.5px;color:#548235;left:439.13px;width:1800px;text-align:center;transform-origin:50% 50%;transform:scaleX(0.9713);">284</div>
<div class="r" style="left:1465px;top:1762.76px;width:244.2px;height:51.56px;background:#fff"></div>
<div class="t cb" style="top:1768px;height:44px;line-height:44px;font-size:39.5px;color:#000;left:688.49px;width:1800px;text-align:center;transform-origin:50% 50%;transform:scaleX(0.9713);">291</div>
<div class="r" style="left:149.1px;top:1818.72px;width:683.9px;height:51.56px;background:#BDD7EE"></div>
<div class="t cb" style="top:1821px;height:49px;line-height:49px;font-size:44.4px;color:#000;word-spacing:-0.51px;left:200.4px;transform-origin:0 50%;transform:scaleX(0.9290);">Loyola Heights</div>
<div class="r" style="left:837px;top:1818.72px;width:184.7px;height:51.56px;background:#fff"></div>
<div class="t cb" style="top:1824px;height:44px;line-height:44px;font-size:39.5px;color:#C55A11;left:31.17px;width:1800px;text-align:center;transform-origin:50% 50%;transform:scaleX(0.9713);">6</div>
<div class="r" style="left:1025.8px;top:1818.72px;width:184.8px;height:51.56px;background:#fff"></div>
<div class="t cb" style="top:1824px;height:44px;line-height:44px;font-size:39.5px;color:#767171;left:220.54px;width:1800px;text-align:center;transform-origin:50% 50%;transform:scaleX(0.9713);">9</div>
<div class="r" style="left:1214.4px;top:1818.72px;width:246.6px;height:51.56px;background:#fff"></div>
<div class="t cb" style="top:1824px;height:44px;line-height:44px;font-size:39.5px;color:#548235;left:439.55px;width:1800px;text-align:center;transform-origin:50% 50%;transform:scaleX(0.9713);">896</div>
<div class="r" style="left:1465px;top:1818.72px;width:244.2px;height:51.56px;background:#fff"></div>
<div class="t cb" style="top:1824px;height:44px;line-height:44px;font-size:39.5px;color:#000;left:688.92px;width:1800px;text-align:center;transform-origin:50% 50%;transform:scaleX(0.9713);">911</div>
<div class="r" style="left:149.1px;top:1874.68px;width:683.9px;height:51.56px;background:#BDD7EE"></div>
<div class="t cb" style="top:1877px;height:49px;line-height:49px;font-size:44.4px;color:#000;left:201.02px;transform-origin:0 50%;transform:scaleX(0.9695);">Mangga</div>
<div class="r" style="left:837px;top:1874.68px;width:184.7px;height:51.56px;background:#fff"></div>
<div class="r" style="left:1025.8px;top:1874.68px;width:184.8px;height:51.56px;background:#fff"></div>
<div class="t cb" style="top:1879px;height:44px;line-height:44px;font-size:39.5px;color:#767171;left:219.74px;width:1800px;text-align:center;transform-origin:50% 50%;transform:scaleX(0.9713);">1</div>
<div class="r" style="left:1214.4px;top:1874.68px;width:246.6px;height:51.56px;background:#fff"></div>
<div class="t cb" style="top:1879px;height:44px;line-height:44px;font-size:39.5px;color:#548235;left:440.01px;width:1800px;text-align:center;transform-origin:50% 50%;transform:scaleX(0.9713);">96</div>
<div class="r" style="left:1465px;top:1874.68px;width:244.2px;height:51.56px;background:#fff"></div>
<div class="t cb" style="top:1879px;height:44px;line-height:44px;font-size:39.5px;color:#000;left:689.46px;width:1800px;text-align:center;transform-origin:50% 50%;transform:scaleX(0.9713);">97</div>
<div class="r" style="left:149.1px;top:1930.64px;width:683.9px;height:51.56px;background:#BDD7EE"></div>
<div class="t cb" style="top:1933px;height:49px;line-height:49px;font-size:44.4px;color:#000;left:200.94px;transform-origin:0 50%;transform:scaleX(0.9949);">Marilag</div>
<div class="r" style="left:837px;top:1930.64px;width:184.7px;height:51.56px;background:#fff"></div>
<div class="t cb" style="top:1935px;height:44px;line-height:44px;font-size:39.5px;color:#C55A11;left:31.5px;width:1800px;text-align:center;transform-origin:50% 50%;transform:scaleX(0.9713);">10</div>
<div class="r" style="left:1025.8px;top:1930.64px;width:184.8px;height:51.56px;background:#fff"></div>
<div class="t cb" style="top:1935px;height:44px;line-height:44px;font-size:39.5px;color:#767171;left:220.29px;width:1800px;text-align:center;transform-origin:50% 50%;transform:scaleX(0.9713);">17</div>
<div class="r" style="left:1214.4px;top:1930.64px;width:246.6px;height:51.56px;background:#fff"></div>
<div class="t cb" style="top:1935px;height:44px;line-height:44px;font-size:39.5px;color:#548235;left:439.03px;width:1800px;text-align:center;transform-origin:50% 50%;transform:scaleX(0.9713);">661</div>
<div class="r" style="left:1465px;top:1930.64px;width:244.2px;height:51.56px;background:#fff"></div>
<div class="t cb" style="top:1935px;height:44px;line-height:44px;font-size:39.5px;color:#000;left:688.65px;width:1800px;text-align:center;transform-origin:50% 50%;transform:scaleX(0.9713);">688</div>
<div class="r" style="left:149.1px;top:1986.6px;width:683.9px;height:51.56px;background:#BDD7EE"></div>
<div class="t cb" style="top:1989px;height:49px;line-height:49px;font-size:44.4px;color:#000;left:201.04px;transform-origin:0 50%;transform:scaleX(0.9639);">Masagana</div>
<div class="r" style="left:837px;top:1986.6px;width:184.7px;height:51.56px;background:#fff"></div>
<div class="t cb" style="top:1991px;height:44px;line-height:44px;font-size:39.5px;color:#C55A11;left:31.17px;width:1800px;text-align:center;transform-origin:50% 50%;transform:scaleX(0.9713);">6</div>
<div class="r" style="left:1025.8px;top:1986.6px;width:184.8px;height:51.56px;background:#fff"></div>
<div class="t cb" style="top:1991px;height:44px;line-height:44px;font-size:39.5px;color:#767171;left:219.45px;width:1800px;text-align:center;transform-origin:50% 50%;transform:scaleX(0.9713);">4</div>
<div class="r" style="left:1214.4px;top:1986.6px;width:246.6px;height:51.56px;background:#fff"></div>
<div class="t cb" style="top:1991px;height:44px;line-height:44px;font-size:39.5px;color:#548235;left:439.68px;width:1800px;text-align:center;transform-origin:50% 50%;transform:scaleX(0.9713);">312</div>
<div class="r" style="left:1465px;top:1986.6px;width:244.2px;height:51.56px;background:#fff"></div>
<div class="t cb" style="top:1991px;height:44px;line-height:44px;font-size:39.5px;color:#000;left:689.08px;width:1800px;text-align:center;transform-origin:50% 50%;transform:scaleX(0.9713);">322</div>
<div class="r" style="left:149.1px;top:2042.56px;width:683.9px;height:51.56px;background:#BDD7EE"></div>
<div class="t cb" style="top:2045px;height:49px;line-height:49px;font-size:44.4px;color:#000;word-spacing:-1.07px;left:201px;transform-origin:0 50%;transform:scaleX(0.9755);">Matandang Balara</div>
<div class="r" style="left:837px;top:2042.56px;width:184.7px;height:51.56px;background:#fff"></div>
<div class="t cb" style="top:2047px;height:44px;line-height:44px;font-size:39.5px;color:#C55A11;left:31.33px;width:1800px;text-align:center;transform-origin:50% 50%;transform:scaleX(0.9713);">32</div>
<div class="r" style="left:1025.8px;top:2042.56px;width:184.8px;height:51.56px;background:#fff"></div>
<div class="t cb" style="top:2047px;height:44px;line-height:44px;font-size:39.5px;color:#767171;left:219.88px;width:1800px;text-align:center;transform-origin:50% 50%;transform:scaleX(0.9713);">31</div>
<div class="r" style="left:1214.4px;top:2042.56px;width:246.6px;height:51.56px;background:#fff"></div>
<div class="t cb" style="top:2047px;height:44px;line-height:44px;font-size:39.5px;color:#548235;left:439.6px;width:1800px;text-align:center;transform-origin:50% 50%;transform:scaleX(0.9713);">2119</div>
<div class="r" style="left:1465px;top:2042.56px;width:244.2px;height:51.56px;background:#fff"></div>
<div class="t cb" style="top:2047px;height:44px;line-height:44px;font-size:39.5px;color:#000;left:688.78px;width:1800px;text-align:center;transform-origin:50% 50%;transform:scaleX(0.9713);">2182</div>
<div class="r" style="left:149.1px;top:2098.52px;width:683.9px;height:51.56px;background:#BDD7EE"></div>
<div class="t cb" style="top:2101px;height:49px;line-height:49px;font-size:44.4px;color:#000;left:201.03px;transform-origin:0 50%;transform:scaleX(0.9658);">Milagrosa</div>
<div class="r" style="left:837px;top:2098.52px;width:184.7px;height:51.56px;background:#fff"></div>
<div class="t cb" style="top:2103px;height:44px;line-height:44px;font-size:39.5px;color:#C55A11;left:31.41px;width:1800px;text-align:center;transform-origin:50% 50%;transform:scaleX(0.9713);">19</div>
<div class="r" style="left:1025.8px;top:2098.52px;width:184.8px;height:51.56px;background:#fff"></div>
<div class="t cb" style="top:2103px;height:44px;line-height:44px;font-size:39.5px;color:#767171;left:219.45px;width:1800px;text-align:center;transform-origin:50% 50%;transform:scaleX(0.9713);">4</div>
<div class="r" style="left:1214.4px;top:2098.52px;width:246.6px;height:51.56px;background:#fff"></div>
<div class="t cb" style="top:2103px;height:44px;line-height:44px;font-size:39.5px;color:#548235;left:438.95px;width:1800px;text-align:center;transform-origin:50% 50%;transform:scaleX(0.9713);">464</div>
<div class="r" style="left:1465px;top:2098.52px;width:244.2px;height:51.56px;background:#fff"></div>
<div class="t cb" style="top:2103px;height:44px;line-height:44px;font-size:39.5px;color:#000;left:688.85px;width:1800px;text-align:center;transform-origin:50% 50%;transform:scaleX(0.9713);">487</div>
<div class="r" style="left:149.1px;top:2154.48px;width:683.9px;height:51.56px;background:#BDD7EE"></div>
<div class="t cb" style="top:2157px;height:49px;line-height:49px;font-size:44.4px;color:#000;left:200.61px;transform-origin:0 50%;transform:scaleX(0.9163);">Pansol</div>
<div class="r" style="left:837px;top:2154.48px;width:184.7px;height:51.56px;background:#fff"></div>
<div class="t cb" style="top:2159px;height:44px;line-height:44px;font-size:39.5px;color:#C55A11;left:31.17px;width:1800px;text-align:center;transform-origin:50% 50%;transform:scaleX(0.9713);">6</div>
<div class="r" style="left:1025.8px;top:2154.48px;width:184.8px;height:51.56px;background:#fff"></div>
<div class="t cb" style="top:2159px;height:44px;line-height:44px;font-size:39.5px;color:#767171;left:219.78px;width:1800px;text-align:center;transform-origin:50% 50%;transform:scaleX(0.9713);">14</div>
<div class="r" style="left:1214.4px;top:2154.48px;width:246.6px;height:51.56px;background:#fff"></div>
<div class="t cb" style="top:2159px;height:44px;line-height:44px;font-size:39.5px;color:#548235;left:439.28px;width:1800px;text-align:center;transform-origin:50% 50%;transform:scaleX(0.9713);">888</div>
<div class="r" style="left:1465px;top:2154.48px;width:244.2px;height:51.56px;background:#fff"></div>
<div class="t cb" style="top:2159px;height:44px;line-height:44px;font-size:39.5px;color:#000;left:689.14px;width:1800px;text-align:center;transform-origin:50% 50%;transform:scaleX(0.9713);">908</div>
<div class="r" style="left:149.1px;top:2210.44px;width:683.9px;height:51.56px;background:#BDD7EE"></div>
<div class="t cb" style="top:2213px;height:49px;line-height:49px;font-size:44.4px;color:#000;word-spacing:-0.97px;left:200.22px;transform-origin:0 50%;transform:scaleX(0.9666);">Quirino 2-A</div>
<div class="r" style="left:837px;top:2210.44px;width:184.7px;height:51.56px;background:#fff"></div>
<div class="t cb" style="top:2215px;height:44px;line-height:44px;font-size:39.5px;color:#C55A11;left:30.89px;width:1800px;text-align:center;transform-origin:50% 50%;transform:scaleX(0.9713);">1</div>
<div class="r" style="left:1025.8px;top:2210.44px;width:184.8px;height:51.56px;background:#fff"></div>
<div class="r" style="left:1214.4px;top:2210.44px;width:246.6px;height:51.56px;background:#fff"></div>
<div class="t cb" style="top:2215px;height:44px;line-height:44px;font-size:39.5px;color:#548235;left:439.38px;width:1800px;text-align:center;transform-origin:50% 50%;transform:scaleX(0.9713);">301</div>
<div class="r" style="left:1465px;top:2210.44px;width:244.2px;height:51.56px;background:#fff"></div>
<div class="t cb" style="top:2215px;height:44px;line-height:44px;font-size:39.5px;color:#000;left:689.08px;width:1800px;text-align:center;transform-origin:50% 50%;transform:scaleX(0.9713);">302</div>
<div class="r" style="left:149.1px;top:2266.4px;width:683.9px;height:51.56px;background:#BDD7EE"></div>
<div class="t cb" style="top:2269px;height:49px;line-height:49px;font-size:44.4px;color:#000;word-spacing:-0.85px;left:200.23px;transform-origin:0 50%;transform:scaleX(0.9570);">Quirino 2-B</div>
<div class="r" style="left:837px;top:2266.4px;width:184.7px;height:51.56px;background:#fff"></div>
<div class="t cb" style="top:2271px;height:44px;line-height:44px;font-size:39.5px;color:#C55A11;left:31.03px;width:1800px;text-align:center;transform-origin:50% 50%;transform:scaleX(0.9713);">2</div>
<div class="r" style="left:1025.8px;top:2266.4px;width:184.8px;height:51.56px;background:#fff"></div>
<div class="r" style="left:1214.4px;top:2266.4px;width:246.6px;height:51.56px;background:#fff"></div>
<div class="t cb" style="top:2271px;height:44px;line-height:44px;font-size:39.5px;color:#548235;left:439.75px;width:1800px;text-align:center;transform-origin:50% 50%;transform:scaleX(0.9713);">343</div>
<div class="r" style="left:1465px;top:2266.4px;width:244.2px;height:51.56px;background:#fff"></div>
<div class="t cb" style="top:2271px;height:44px;line-height:44px;font-size:39.5px;color:#000;left:688.51px;width:1800px;text-align:center;transform-origin:50% 50%;transform:scaleX(0.9713);">345</div>
<div class="r" style="left:149.1px;top:2322.36px;width:683.9px;height:51.56px;background:#BDD7EE"></div>
<div class="t cb" style="top:2325px;height:49px;line-height:49px;font-size:44.4px;color:#000;word-spacing:-0.77px;left:200.25px;transform-origin:0 50%;transform:scaleX(0.9504);">Quirino 2-C</div>
<div class="r" style="left:837px;top:2322.36px;width:184.7px;height:51.56px;background:#fff"></div>
<div class="t cb" style="top:2327px;height:44px;line-height:44px;font-size:39.5px;color:#C55A11;left:30.6px;width:1800px;text-align:center;transform-origin:50% 50%;transform:scaleX(0.9713);">4</div>
<div class="r" style="left:1025.8px;top:2322.36px;width:184.8px;height:51.56px;background:#fff"></div>
<div class="t cb" style="top:2327px;height:44px;line-height:44px;font-size:39.5px;color:#767171;left:219.74px;width:1800px;text-align:center;transform-origin:50% 50%;transform:scaleX(0.9713);">1</div>
<div class="r" style="left:1214.4px;top:2322.36px;width:246.6px;height:51.56px;background:#fff"></div>
<div class="t cb" style="top:2327px;height:44px;line-height:44px;font-size:39.5px;color:#548235;left:439.31px;width:1800px;text-align:center;transform-origin:50% 50%;transform:scaleX(0.9713);">208</div>
<div class="r" style="left:1465px;top:2322.36px;width:244.2px;height:51.56px;background:#fff"></div>
<div class="t cb" style="top:2327px;height:44px;line-height:44px;font-size:39.5px;color:#000;left:688.85px;width:1800px;text-align:center;transform-origin:50% 50%;transform:scaleX(0.9713);">213</div>
<div class="r" style="left:149.1px;top:2378.32px;width:683.9px;height:51.56px;background:#BDD7EE"></div>
<div class="t cb" style="top:2381px;height:49px;line-height:49px;font-size:44.4px;color:#000;word-spacing:-0.97px;left:200.22px;transform-origin:0 50%;transform:scaleX(0.9666);">Quirino 3-A</div>
<div class="r" style="left:837px;top:2378.32px;width:184.7px;height:51.56px;background:#fff"></div>
<div class="r" style="left:1025.8px;top:2378.32px;width:184.8px;height:51.56px;background:#fff"></div>
<div class="r" style="left:1214.4px;top:2378.32px;width:246.6px;height:51.56px;background:#fff"></div>
<div class="t cb" style="top:2383px;height:44px;line-height:44px;font-size:39.5px;color:#548235;left:438.78px;width:1800px;text-align:center;transform-origin:50% 50%;transform:scaleX(0.9713);">85</div>
<div class="r" style="left:1465px;top:2378.32px;width:244.2px;height:51.56px;background:#fff"></div>
<div class="t cb" style="top:2383px;height:44px;line-height:44px;font-size:39.5px;color:#000;left:688.18px;width:1800px;text-align:center;transform-origin:50% 50%;transform:scaleX(0.9713);">85</div>
<div class="r" style="left:149.1px;top:2434.28px;width:683.9px;height:51.56px;background:#BDD7EE"></div>
<div class="t cb" style="top:2437px;height:49px;line-height:49px;font-size:44.4px;color:#000;word-spacing:-0.65px;left:200.3px;transform-origin:0 50%;transform:scaleX(0.9404);">Saint Ignatius</div>
<div class="r" style="left:837px;top:2434.28px;width:184.7px;height:51.56px;background:#fff"></div>
<div class="t cb" style="top:2439px;height:44px;line-height:44px;font-size:39.5px;color:#C55A11;left:30.89px;width:1800px;text-align:center;transform-origin:50% 50%;transform:scaleX(0.9713);">1</div>
<div class="r" style="left:1025.8px;top:2434.28px;width:184.8px;height:51.56px;background:#fff"></div>
<div class="t cb" style="top:2439px;height:44px;line-height:44px;font-size:39.5px;color:#767171;left:220.25px;width:1800px;text-align:center;transform-origin:50% 50%;transform:scaleX(0.9713);">3</div>
<div class="r" style="left:1214.4px;top:2434.28px;width:246.6px;height:51.56px;background:#fff"></div>
<div class="t cb" style="top:2439px;height:44px;line-height:44px;font-size:39.5px;color:#548235;left:439.55px;width:1800px;text-align:center;transform-origin:50% 50%;transform:scaleX(0.9713);">86</div>
<div class="r" style="left:1465px;top:2434.28px;width:244.2px;height:51.56px;background:#fff"></div>
<div class="t cb" style="top:2439px;height:44px;line-height:44px;font-size:39.5px;color:#000;left:689.53px;width:1800px;text-align:center;transform-origin:50% 50%;transform:scaleX(0.9713);">90</div>
<div class="r" style="left:149.1px;top:2490.24px;width:683.9px;height:51.56px;background:#BDD7EE"></div>
<div class="t cb" style="top:2493px;height:49px;line-height:49px;font-size:44.4px;color:#000;word-spacing:-0.46px;left:200.32px;transform-origin:0 50%;transform:scaleX(0.9253);">San Roque</div>
<div class="r" style="left:837px;top:2490.24px;width:184.7px;height:51.56px;background:#fff"></div>
<div class="t cb" style="top:2495px;height:44px;line-height:44px;font-size:39.5px;color:#C55A11;left:30.93px;width:1800px;text-align:center;transform-origin:50% 50%;transform:scaleX(0.9713);">14</div>
<div class="r" style="left:1025.8px;top:2490.24px;width:184.8px;height:51.56px;background:#fff"></div>
<div class="t cb" style="top:2495px;height:44px;line-height:44px;font-size:39.5px;color:#767171;left:219.78px;width:1800px;text-align:center;transform-origin:50% 50%;transform:scaleX(0.9713);">8</div>
<div class="r" style="left:1214.4px;top:2490.24px;width:246.6px;height:51.56px;background:#fff"></div>
<div class="t cb" style="top:2495px;height:44px;line-height:44px;font-size:39.5px;color:#548235;left:439.74px;width:1800px;text-align:center;transform-origin:50% 50%;transform:scaleX(0.9713);">988</div>
<div class="r" style="left:1465px;top:2490.24px;width:244.2px;height:51.56px;background:#fff"></div>
<div class="t cb" style="top:2495px;height:44px;line-height:44px;font-size:39.5px;color:#000;left:689.25px;width:1800px;text-align:center;transform-origin:50% 50%;transform:scaleX(0.9713);">1010</div>
<div class="r" style="left:149.1px;top:2546.2px;width:683.9px;height:51.56px;background:#BDD7EE"></div>
<div class="t cb" style="top:2549px;height:49px;line-height:49px;font-size:44.4px;color:#000;left:200.33px;transform-origin:0 50%;transform:scaleX(0.9189);">Silangan</div>
<div class="r" style="left:837px;top:2546.2px;width:184.7px;height:51.56px;background:#fff"></div>
<div class="t cb" style="top:2551px;height:44px;line-height:44px;font-size:39.5px;color:#C55A11;left:31.26px;width:1800px;text-align:center;transform-origin:50% 50%;transform:scaleX(0.9713);">7</div>
<div class="r" style="left:1025.8px;top:2546.2px;width:184.8px;height:51.56px;background:#fff"></div>
<div class="t cb" style="top:2551px;height:44px;line-height:44px;font-size:39.5px;color:#767171;left:220.25px;width:1800px;text-align:center;transform-origin:50% 50%;transform:scaleX(0.9713);">3</div>
<div class="r" style="left:1214.4px;top:2546.2px;width:246.6px;height:51.56px;background:#fff"></div>
<div class="t cb" style="top:2551px;height:44px;line-height:44px;font-size:39.5px;color:#548235;left:439.27px;width:1800px;text-align:center;transform-origin:50% 50%;transform:scaleX(0.9713);">403</div>
<div class="r" style="left:1465px;top:2546.2px;width:244.2px;height:51.56px;background:#fff"></div>
<div class="t cb" style="top:2551px;height:44px;line-height:44px;font-size:39.5px;color:#000;left:688.67px;width:1800px;text-align:center;transform-origin:50% 50%;transform:scaleX(0.9713);">413</div>
<div class="r" style="left:149.1px;top:2602.16px;width:683.9px;height:51.56px;background:#BDD7EE"></div>
<div class="t cb" style="top:2605px;height:49px;line-height:49px;font-size:44.4px;color:#000;left:200.33px;transform-origin:0 50%;transform:scaleX(0.9178);">Socorro</div>
<div class="r" style="left:837px;top:2602.16px;width:184.7px;height:51.56px;background:#fff"></div>
<div class="t cb" style="top:2607px;height:44px;line-height:44px;font-size:39.5px;color:#C55A11;left:31.17px;width:1800px;text-align:center;transform-origin:50% 50%;transform:scaleX(0.9713);">40</div>
<div class="r" style="left:1025.8px;top:2602.16px;width:184.8px;height:51.56px;background:#fff"></div>
<div class="t cb" style="top:2607px;height:44px;line-height:44px;font-size:39.5px;color:#767171;left:220.04px;width:1800px;text-align:center;transform-origin:50% 50%;transform:scaleX(0.9713);">12</div>
<div class="r" style="left:1214.4px;top:2602.16px;width:246.6px;height:51.56px;background:#fff"></div>
<div class="t cb" style="top:2607px;height:44px;line-height:44px;font-size:39.5px;color:#548235;left:439.24px;width:1800px;text-align:center;transform-origin:50% 50%;transform:scaleX(0.9713);">1831</div>
<div class="r" style="left:1465px;top:2602.16px;width:244.2px;height:51.56px;background:#fff"></div>
<div class="t cb" style="top:2607px;height:44px;line-height:44px;font-size:39.5px;color:#000;left:689.01px;width:1800px;text-align:center;transform-origin:50% 50%;transform:scaleX(0.9713);">1883</div>
<div class="r" style="left:149.1px;top:2658.12px;width:683.9px;height:51.56px;background:#BDD7EE"></div>
<div class="t cb" style="top:2661px;height:49px;line-height:49px;font-size:44.4px;color:#000;left:200.56px;transform-origin:0 50%;transform:scaleX(0.9449);">Tagumpay</div>
<div class="r" style="left:837px;top:2658.12px;width:184.7px;height:51.56px;background:#fff"></div>
<div class="t cb" style="top:2663px;height:44px;line-height:44px;font-size:39.5px;color:#C55A11;left:30.89px;width:1800px;text-align:center;transform-origin:50% 50%;transform:scaleX(0.9713);">1</div>
<div class="r" style="left:1025.8px;top:2658.12px;width:184.8px;height:51.56px;background:#fff"></div>
<div class="t cb" style="top:2663px;height:44px;line-height:44px;font-size:39.5px;color:#767171;left:219.74px;width:1800px;text-align:center;transform-origin:50% 50%;transform:scaleX(0.9713);">1</div>
<div class="r" style="left:1214.4px;top:2658.12px;width:246.6px;height:51.56px;background:#fff"></div>
<div class="t cb" style="top:2663px;height:44px;line-height:44px;font-size:39.5px;color:#548235;left:438.96px;width:1800px;text-align:center;transform-origin:50% 50%;transform:scaleX(0.9713);">115</div>
<div class="r" style="left:1465px;top:2658.12px;width:244.2px;height:51.56px;background:#fff"></div>
<div class="t cb" style="top:2663px;height:44px;line-height:44px;font-size:39.5px;color:#000;left:689.19px;width:1800px;text-align:center;transform-origin:50% 50%;transform:scaleX(0.9713);">117</div>
<div class="r" style="left:149.1px;top:2714.08px;width:683.9px;height:51.56px;background:#BDD7EE"></div>
<div class="t cb" style="top:2717px;height:49px;line-height:49px;font-size:44.4px;color:#000;word-spacing:-0.91px;left:200.69px;transform-origin:0 50%;transform:scaleX(0.9620);">Ugong Norte</div>
<div class="r" style="left:837px;top:2714.08px;width:184.7px;height:51.56px;background:#fff"></div>
<div class="t cb" style="top:2719px;height:44px;line-height:44px;font-size:39.5px;color:#C55A11;left:30.93px;width:1800px;text-align:center;transform-origin:50% 50%;transform:scaleX(0.9713);">14</div>
<div class="r" style="left:1025.8px;top:2714.08px;width:184.8px;height:51.56px;background:#fff"></div>
<div class="t cb" style="top:2719px;height:44px;line-height:44px;font-size:39.5px;color:#767171;left:219.28px;width:1800px;text-align:center;transform-origin:50% 50%;transform:scaleX(0.9713);">5</div>
<div class="r" style="left:1214.4px;top:2714.08px;width:246.6px;height:51.56px;background:#fff"></div>
<div class="t cb" style="top:2719px;height:44px;line-height:44px;font-size:39.5px;color:#548235;left:439.67px;width:1800px;text-align:center;transform-origin:50% 50%;transform:scaleX(0.9713);">570</div>
<div class="r" style="left:1465px;top:2714.08px;width:244.2px;height:51.56px;background:#fff"></div>
<div class="t cb" style="top:2719px;height:44px;line-height:44px;font-size:39.5px;color:#000;left:688.98px;width:1800px;text-align:center;transform-origin:50% 50%;transform:scaleX(0.9713);">589</div>
<div class="r" style="left:149.1px;top:2770.04px;width:683.9px;height:51.56px;background:#BDD7EE"></div>
<div class="t cb" style="top:2773px;height:49px;line-height:49px;font-size:44.4px;color:#000;word-spacing:-1.09px;left:200.33px;transform-origin:0 50%;transform:scaleX(0.9773);">Villa Maria Clara</div>
<div class="r" style="left:837px;top:2770.04px;width:184.7px;height:51.56px;background:#fff"></div>
<div class="t cb" style="top:2775px;height:44px;line-height:44px;font-size:39.5px;color:#C55A11;left:31.4px;width:1800px;text-align:center;transform-origin:50% 50%;transform:scaleX(0.9713);">3</div>
<div class="r" style="left:1025.8px;top:2770.04px;width:184.8px;height:51.56px;background:#fff"></div>
<div class="t cb" style="top:2775px;height:44px;line-height:44px;font-size:39.5px;color:#767171;left:220.25px;width:1800px;text-align:center;transform-origin:50% 50%;transform:scaleX(0.9713);">3</div>
<div class="r" style="left:1214.4px;top:2770.04px;width:246.6px;height:51.56px;background:#fff"></div>
<div class="t cb" style="top:2775px;height:44px;line-height:44px;font-size:39.5px;color:#548235;left:438.96px;width:1800px;text-align:center;transform-origin:50% 50%;transform:scaleX(0.9713);">175</div>
<div class="r" style="left:1465px;top:2770.04px;width:244.2px;height:51.56px;background:#fff"></div>
<div class="t cb" style="top:2775px;height:44px;line-height:44px;font-size:39.5px;color:#000;left:688.64px;width:1800px;text-align:center;transform-origin:50% 50%;transform:scaleX(0.9713);">181</div>
<div class="r" style="left:149.1px;top:2826px;width:683.9px;height:51.56px;background:#BDD7EE"></div>
<div class="t cb" style="top:2829px;height:49px;line-height:49px;font-size:44.4px;color:#000;word-spacing:-0.74px;left:200.77px;transform-origin:0 50%;transform:scaleX(0.9475);">West Kamias</div>
<div class="r" style="left:837px;top:2826px;width:184.7px;height:51.56px;background:#fff"></div>
<div class="t cb" style="top:2831px;height:44px;line-height:44px;font-size:39.5px;color:#C55A11;left:31.26px;width:1800px;text-align:center;transform-origin:50% 50%;transform:scaleX(0.9713);">7</div>
<div class="r" style="left:1025.8px;top:2826px;width:184.8px;height:51.56px;background:#fff"></div>
<div class="t cb" style="top:2831px;height:44px;line-height:44px;font-size:39.5px;color:#767171;left:220.02px;width:1800px;text-align:center;transform-origin:50% 50%;transform:scaleX(0.9713);">6</div>
<div class="r" style="left:1214.4px;top:2826px;width:246.6px;height:51.56px;background:#fff"></div>
<div class="t cb" style="top:2831px;height:44px;line-height:44px;font-size:39.5px;color:#548235;left:439.6px;width:1800px;text-align:center;transform-origin:50% 50%;transform:scaleX(0.9713);">368</div>
<div class="r" style="left:1465px;top:2826px;width:244.2px;height:51.56px;background:#fff"></div>
<div class="t cb" style="top:2831px;height:44px;line-height:44px;font-size:39.5px;color:#000;left:688.78px;width:1800px;text-align:center;transform-origin:50% 50%;transform:scaleX(0.9713);">381</div>
<div class="r" style="left:149.1px;top:2881.96px;width:683.9px;height:51.56px;background:#BDD7EE"></div>
<div class="t cb" style="top:2885px;height:49px;line-height:49px;font-size:44.4px;color:#000;word-spacing:-0.94px;left:200.77px;transform-origin:0 50%;transform:scaleX(0.9640);">White Plains</div>
<div class="r" style="left:837px;top:2881.96px;width:184.7px;height:51.56px;background:#fff"></div>
<div class="t cb" style="top:2887px;height:44px;line-height:44px;font-size:39.5px;color:#C55A11;left:31.03px;width:1800px;text-align:center;transform-origin:50% 50%;transform:scaleX(0.9713);">2</div>
<div class="r" style="left:1025.8px;top:2881.96px;width:184.8px;height:51.56px;background:#fff"></div>
<div class="t cb" style="top:2887px;height:44px;line-height:44px;font-size:39.5px;color:#767171;left:219.74px;width:1800px;text-align:center;transform-origin:50% 50%;transform:scaleX(0.9713);">1</div>
<div class="r" style="left:1214.4px;top:2881.96px;width:246.6px;height:51.56px;background:#fff"></div>
<div class="t cb" style="top:2887px;height:44px;line-height:44px;font-size:39.5px;color:#548235;left:439.79px;width:1800px;text-align:center;transform-origin:50% 50%;transform:scaleX(0.9713);">147</div>
<div class="r" style="left:1465px;top:2881.96px;width:244.2px;height:51.56px;background:#fff"></div>
<div class="t cb" style="top:2887px;height:44px;line-height:44px;font-size:39.5px;color:#000;left:689.25px;width:1800px;text-align:center;transform-origin:50% 50%;transform:scaleX(0.9713);">150</div>
<div class="r" style="left:149.1px;top:2937.92px;width:683.9px;height:66.1px;background:#203864"></div>
<div class="r" style="left:837px;top:2937.92px;width:184.7px;height:66.1px;background:#203864"></div>
<div class="r" style="left:1025.8px;top:2937.92px;width:184.8px;height:66.1px;background:#203864"></div>
<div class="r" style="left:1214.4px;top:2937.92px;width:246.6px;height:66.1px;background:#203864"></div>
<div class="r" style="left:1465px;top:2937.92px;width:244.2px;height:66.1px;background:#203864"></div>
<div class="t cbi" style="top:2945px;height:57px;line-height:57px;font-size:51px;color:#fff;word-spacing:-1.06px;left:201.22px;transform-origin:0 50%;transform:scaleX(0.9523);">District 3 Total</div>
<div class="t cbi" style="top:2946px;height:56px;line-height:56px;font-size:49.8px;color:#fff;left:399.1px;width:600px;text-align:right;transform-origin:100% 50%;transform:scaleX(0.9992);">244</div>
<div class="t cbi" style="top:2946px;height:56px;line-height:56px;font-size:49.8px;color:#fff;left:555.22px;width:600px;text-align:right;transform-origin:100% 50%;transform:scaleX(0.9992);">190</div>
<div class="t cbi" style="top:2946px;height:56px;line-height:56px;font-size:49.8px;color:#fff;left:837.28px;width:600px;text-align:right;transform-origin:100% 50%;transform:scaleX(1.0008);">16,373</div>
<div class="t cbi" style="top:2946px;height:56px;line-height:56px;font-size:49.8px;color:#fff;left:1085.93px;width:600px;text-align:right;transform-origin:100% 50%;transform:scaleX(1.0008);">16,807</div>
<div class="t cr" style="top:3025px;height:33px;line-height:33px;font-size:29.4px;color:#000;word-spacing:-0.7px;left:853.96px;transform-origin:0 50%;transform:scaleX(1.0154);">Page 2 of 4</div>
</body></html>
